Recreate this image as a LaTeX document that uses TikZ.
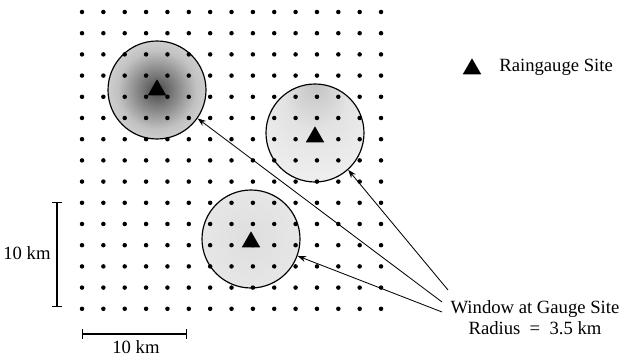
\documentclass[tikz,border=0pt]{standalone}
\usepackage{fontspec}
\setmainfont{Liberation Serif}
\usetikzlibrary{shapes.geometric,arrows.meta}

\pgfdeclareradialshading{darkwin}{\pgfpoint{0bp}{0bp}}{color(0bp)=(black!72); color(8bp)=(black!52); color(20bp)=(black!24); color(35bp)=(black!10); color(50bp)=(black!6)}
\pgfdeclareradialshading{topwin}{\pgfpoint{0bp}{26bp}}{color(0bp)=(black!24); color(16bp)=(black!11); color(50bp)=(black!2)}
\pgfdeclareradialshading{lightwin}{\pgfpoint{0bp}{0bp}}{color(0bp)=(black!13); color(30bp)=(black!9); color(50bp)=(black!5)}

\tikzset{
  window/.style={circle, draw, line width=0.7pt, minimum size=58.8pt, inner sep=0pt, shade},
  gauge/.style={regular polygon, regular polygon sides=3, fill=black, inner sep=0pt, minimum size=12.8pt},
  lbl/.style={font=\fontsize{11.2}{12.5}\selectfont, inner sep=0pt},
  pointer/.style={-{Stealth[length=5pt,width=3.6pt]}, line width=0.5pt},
  scalebar/.style={|-|, line width=0.7pt}
}

\begin{document}
\begin{tikzpicture}[x=0.6pt, y=-0.6pt]
\useasboundingbox (0,0) rectangle (619,357);

% windows round the gauges
\node[window, shading=darkwin] (w1) at (157,90) {};
\node[window, shading=topwin] (w2) at (315,133) {};
\node[window, shading=lightwin] (w3) at (251,239) {};

% grid points
\foreach \i in {0,...,14}
  \foreach \j in {0,...,14}
    \fill ({82+21.36*\i},{12+21.2*\j}) circle (1.35pt);

\node[gauge] (g1) at (157,90) {};
\node[gauge] (g2) at (315,137) {};
\node[gauge] (g3) at (251,242) {};

% legend
\node[gauge] (gl) at (472,69) {};
\node[lbl, anchor=west] (leg) at (499,67) {Raingauge Site};

% scale
\coordinate (v0) at (57,202);
\coordinate (v1) at (57,307);
\draw[scalebar] (v0) -- (v1);
\node[lbl] (vl) at (27,253) {10 km};
\coordinate (h0) at (82,334);
\coordinate (h1) at (187,334);
\draw[scalebar] (h0) -- (h1);
\node[lbl] (hl) at (136,347) {10 km};

% window label
\node[lbl, align=center] (win) at (535,318) {Window at Gauge Site\\Radius \ = \ 3.5 km};
\coordinate (p1) at (442,302);
\coordinate (p2) at (448,290);
\coordinate (p3) at (442,312);
\draw[pointer] (p1) -- (w1.-35);
\draw[pointer] (p2) -- (w2.-48);
\draw[pointer] (p3) -- (w3.-20);
\end{tikzpicture}
\end{document}
